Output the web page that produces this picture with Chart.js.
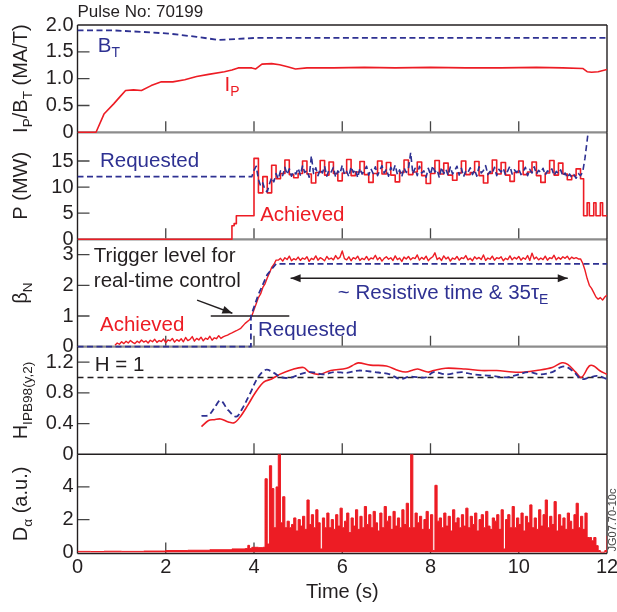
<!DOCTYPE html>
<html>
<head>
<meta charset="utf-8">
<script src="https://cdn.jsdelivr.net/npm/chart.js@4.4.1/dist/chart.umd.min.js"></script>
<style>
  html, body { margin: 0; padding: 0; background: #fff; }
  #wrap { position: relative; width: 617px; height: 612px; }
  #wrap canvas { position: absolute; left: 0; top: 0; }
</style>
</head>
<body>
<div id="wrap">
  <canvas id="c1" width="617" height="612"></canvas>
  <canvas id="c2" width="617" height="612"></canvas>
  <canvas id="c3" width="617" height="612"></canvas>
  <canvas id="c4" width="617" height="612"></canvas>
  <canvas id="c5" width="617" height="612"></canvas>
</div>
<script>
// ---------- data ----------
const timeTicks = [0, 2, 4, 6, 8, 10, 12];

// Ip / Bt panel
const ipBtTicks = [0, 0.5, 1, 1.5, 2];
const ipBtTickLabels = ['0', '0.5', '1.0', '1.5', '2.0'];
const btTime = [0, 0.8, 1.5, 2.07, 2.7, 3.2, 3.6, 4.04, 12];
const btVal = [1.9, 1.9, 1.87, 1.84, 1.78, 1.72, 1.74, 1.76, 1.76];
const ipTime = [0, 0.42, 0.6, 0.82, 0.96, 1.09, 1.27, 1.45, 1.67, 1.9, 2.16, 2.43, 2.7, 2.97, 3.33, 3.5, 3.64, 3.95,
  4.04, 4.18, 4.4, 4.58, 4.76, 4.94, 5.2, 5.8, 6.5, 7.2, 8.0, 8.8, 9.6, 10.4, 11.0, 11.45, 11.55, 11.65, 11.8, 12];
const ipVal = [0, 0, 0.34, 0.53, 0.66, 0.78, 0.79, 0.78, 0.87, 0.94, 0.94, 0.98, 1.04, 1.08, 1.13, 1.16, 1.2, 1.2,
  1.18, 1.27, 1.28, 1.26, 1.22, 1.18, 1.2, 1.2, 1.21, 1.2, 1.21, 1.2, 1.2, 1.21, 1.2, 1.19, 1.13, 1.12, 1.13, 1.17];

// Power panel
const powerTicks = [0, 5, 10, 15];
const powerTickLabels = ['0', '5', '10', '15'];
const pReqHoldTime = [0, 3.95];
const pReqHoldVal = [12, 12];
const pReqNoiseStart = 4.0, pReqNoiseStep = 0.05;
const pReqNoise = [
  13.2, 14.0, 11.5, 10.2, 10.8, 9.4, 9.1, 10.6, 11.8, 11.0,
  12.6, 11.6, 13.1, 12.2, 13.8, 12.4, 13.5, 12.1, 13.0, 12.5,
  13.6, 12.3, 14.1, 12.8, 13.2, 11.9, 16.0, 12.6, 13.7, 12.2,
  13.4, 12.7, 14.0, 12.1, 13.3, 12.9, 13.8, 11.9, 13.1, 12.6,
  14.2, 12.4, 13.0, 12.0, 13.9, 12.8, 13.4, 11.8, 13.6, 12.5,
  13.1, 14.0, 12.3, 13.5, 12.6, 13.9, 12.2, 13.2, 14.1, 12.7,
  13.4, 12.1, 13.8, 12.9, 14.2, 12.4, 13.3, 12.0, 13.7, 12.8,
  13.5, 16.6, 12.5, 13.6, 12.2, 14.0, 12.7, 13.1, 11.9, 13.6,
  12.4, 14.1, 12.9, 13.3, 11.8, 13.8, 12.6, 13.4, 12.2, 13.9,
  12.5, 13.2, 14.0, 12.3, 13.6, 12.0, 13.1, 12.8, 13.7, 12.4,
  13.3, 12.1, 13.9, 12.7, 13.2, 14.1, 12.4, 13.0, 12.6, 13.8,
  12.2, 13.4, 12.9, 13.6, 12.3, 13.1, 14.0, 12.5, 13.3, 12.8,
  13.5, 12.4, 13.0, 13.8, 12.2, 13.4, 12.7, 13.9, 12.5, 13.2,
  12.8, 13.6, 12.3, 13.1, 12.9, 13.5, 12.2, 13.0, 12.6, 13.3,
  12.1, 12.7, 11.8, 12.5, 11.9, 12.4, 11.7, 12.6, 12.2, 12.9
];
const pReqEndTime = [11.5, 11.58];
const pReqEndVal = [15.5, 21];
const pAchStartTime = [0, 3.5, 3.55, 3.6];
const pAchStartVal = [0, 2.6, 3.0, 4.5];
const pAchStepStart = 4.0, pAchStep = 0.1;
const pAchSteps = [
  15.5, 8.9, 12.0, 8.9, 14.2, 11.6, 12.6, 15.2, 12.4, 11.8,
  12.6, 15.0, 12.5, 10.8, 12.8, 15.1, 12.3, 14.8, 12.6, 11.2,
  12.7, 15.3, 12.2, 12.9, 14.9, 12.4, 10.9, 12.6, 15.0, 12.5,
  14.7, 12.3, 11.0, 12.8, 15.2, 12.4, 12.9, 14.8, 12.2, 10.7,
  12.6, 15.1, 12.5, 14.6, 12.3, 11.3, 12.7, 15.0, 12.4, 12.8,
  14.9, 12.2, 10.8, 12.6, 15.2, 12.5, 14.7, 12.3, 11.1, 12.8,
  15.0, 12.4, 12.9, 14.8, 12.2, 10.9, 12.7, 15.1, 12.3, 14.6,
  12.5, 11.4, 12.2, 13.5, 11.6
];
const pAchEndTime = [11.47, 11.55, 11.6, 11.7, 11.75, 11.85, 11.9, 12];
const pAchEndVal = [4.5, 7.0, 4.5, 7.0, 4.5, 7.0, 4.5, 4.5];

// beta_N panel
const betaTicks = [0, 1, 2, 3];
const betaTickLabels = ['0', '1', '2', '3'];
const betaReqTime = [0, 3.93, 3.93, 4.1, 4.3, 4.5, 12];
const betaReqVal = [0, 0, 1.0, 1.7, 2.35, 2.7, 2.7];
const betaLowStart = 0.85, betaLowStep = 0.05;
const betaLow = [
  0.05, 0.12, 0.08, 0.16, 0.1, 0.18, 0.12, 0.2, 0.14, 0.1,
  0.18, 0.13, 0.22, 0.15, 0.19, 0.12, 0.21, 0.16, 0.24, 0.14,
  0.2, 0.17, 0.25, 0.13, 0.22, 0.19, 0.27, 0.15, 0.23, 0.18,
  0.26, 0.16, 0.3, 0.2, 0.24, 0.33, 0.18, 0.27, 0.22, 0.31,
  0.19, 0.28, 0.24, 0.34, 0.21, 0.29, 0.26, 0.36, 0.27, 0.32,
  0.35, 0.38, 0.42
];
const betaRiseTime = [3.5, 3.6, 3.7, 3.8, 3.9, 3.95, 4.0, 4.05, 4.1, 4.15, 4.2, 4.25, 4.3, 4.35, 4.4, 4.45, 4.5];
const betaRiseVal = [0.45, 0.52, 0.6, 0.76, 0.88, 1.0, 1.2, 1.4, 1.6, 1.72, 1.93, 2.05, 2.24, 2.4, 2.58, 2.68, 2.82];
const betaFlatStart = 4.55, betaFlatStep = 0.05;
const betaFlat = [
  2.82, 2.88, 2.79, 2.9, 2.84, 2.95, 2.8, 2.87, 2.83, 2.92,
  2.81, 2.89, 2.85, 2.93, 2.78, 2.88, 2.84, 2.96, 2.82, 2.9,
  2.86, 2.8, 2.94, 2.85, 2.89, 2.83, 2.97, 2.86, 2.92, 3.12,
  2.87, 2.83, 2.93, 2.8, 2.9, 2.86, 2.95, 2.81, 2.88, 2.84,
  2.94, 2.82, 2.89, 2.86, 2.98, 2.83, 2.91, 2.79, 2.88, 2.93,
  2.85, 2.9, 2.81, 2.96, 2.84, 2.89, 2.78, 2.92, 2.86, 2.94,
  2.83, 2.9, 2.87, 2.99, 2.82, 2.91, 2.85, 2.95, 2.8, 2.88,
  2.93, 3.06, 2.84, 2.9, 2.81, 2.96, 2.86, 2.92, 2.79, 2.89,
  2.85, 2.94, 2.82, 2.9, 2.87, 2.97, 2.83, 2.88, 2.8, 2.93,
  2.86, 2.91, 2.84, 2.99, 2.81, 2.89, 2.85, 2.95, 2.82, 2.9,
  2.87, 2.93, 2.8, 2.88, 2.84, 2.96, 2.83, 2.91, 2.86, 2.94,
  2.82, 2.9, 2.85, 2.97, 2.81, 3.05, 2.86, 2.92, 2.83, 2.89,
  2.84, 2.95, 2.82, 2.9, 2.87, 2.98, 2.83, 2.91, 2.85, 2.93,
  2.88, 2.95, 2.84, 2.92, 2.87, 2.9, 2.86
];
const betaDropTime = [11.4, 11.45, 11.5, 11.55, 11.6, 11.65, 11.7, 11.75, 11.8, 11.85, 11.9, 11.95, 12];
const betaDropVal = [2.86, 2.72, 2.5, 2.22, 2.0, 1.9, 1.76, 1.62, 1.55, 1.6, 1.52, 1.62, 1.68];
const triggerTime = [3.02, 4.8];
const triggerVal = [1, 1];

// H factor panel
const hTicks = [0, 0.4, 0.8, 1.2];
const hTickLabels = ['0', '0.4', '0.8', '1.2'];
const hAchTime = [2.81, 2.97, 3.1, 3.24, 3.42, 3.55, 3.69, 3.86, 4.04, 4.22, 4.4, 4.58, 4.85, 5.12, 5.25, 5.47, 5.74,
  6.1, 6.28, 6.37, 6.64, 7.0, 7.27, 7.44, 7.62, 7.71, 7.94, 8.07, 8.34, 8.79, 9.15, 9.5, 9.86, 10.13, 10.4, 10.76,
  10.98, 11.11, 11.29, 11.42, 11.6, 11.7, 11.83, 12];
const hAchVal = [0.36, 0.44, 0.45, 0.46, 0.42, 0.41, 0.49, 0.64, 0.81, 0.94, 0.98, 1.04, 1.1, 1.13, 1.07, 1.04, 1.09,
  1.12, 1.17, 1.19, 1.16, 1.15, 1.09, 1.07, 1.1, 1.11, 1.07, 1.09, 1.12, 1.11, 1.09, 1.09, 1.07, 1.07, 1.09, 1.13,
  1.19, 1.17, 1.07, 1.0, 1.15, 1.15, 1.09, 1.04];
const hReqTime = [2.81, 2.97, 3.1, 3.24, 3.42, 3.6, 3.73, 3.91, 4.09, 4.27, 4.45, 4.62, 4.85, 5.03, 5.3, 5.56, 5.83,
  6.1, 6.37, 6.73, 7.08, 7.31, 7.53, 7.89, 8.07, 8.34, 8.7, 8.96, 9.41, 9.68, 9.95, 10.21, 10.48, 10.76, 10.94, 11.07,
  11.25, 11.42, 11.6, 11.78, 12];
const hReqVal = [0.5, 0.51, 0.6, 0.7, 0.57, 0.49, 0.59, 0.79, 1.0, 1.1, 1.06, 1.0, 1.0, 1.04, 1.07, 1.04, 1.07,
  1.06, 1.09, 1.07, 1.04, 0.98, 1.01, 1.0, 1.07, 1.04, 1.07, 1.04, 1.02, 1.0, 1.03, 1.07, 1.04, 1.07, 1.13, 1.14,
  1.07, 0.98, 1.0, 1.02, 0.98];
const hRefTime = [0, 12];
const hRefVal = [1, 1];

// D-alpha panel
const daTicks = [0, 2, 4];
const daTickLabels = ['0', '2', '4'];
const daBaseTime = [0, 0.3, 0.6, 1.0, 1.5, 2.0, 2.5, 3.0, 3.5, 3.8, 3.86, 3.9, 3.95, 4.1, 4.2];
const daBaseVal = [0.05, 0.04, 0.06, 0.05, 0.07, 0.1, 0.12, 0.15, 0.2, 0.22, 0.42, 0.22, 0.3, 0.28, 0.3];
const daBurstStart = 4.25, daBurstStep = 0.05;
const daBurst = [
  4.5, 0.5, 5.3, 3.9, 1.5, 4.0, 6.2, 1.8, 3.4, 1.5,
  1.9, 1.5, 1.7, 2.1, 1.3, 2.0, 1.6, 2.2, 1.4, 3.2,
  1.7, 2.3, 1.5, 2.6, 1.8, 0.2, 2.1, 1.5, 2.4, 1.5,
  2.0, 1.4, 2.3, 1.6, 2.7, 1.5, 1.9, 2.4, 1.2, 2.1,
  1.6, 2.6, 1.4, 2.2, 1.5, 2.8, 1.7, 2.3, 1.5, 2.5,
  1.8, 1.3, 2.4, 1.5, 2.8, 1.9, 2.2, 1.4, 2.5, 1.6,
  2.1, 1.5, 2.6, 1.7, 3.0, 1.5, 6.2, 1.5, 2.4, 1.8,
  2.2, 1.4, 2.0, 2.5, 1.4, 2.3, 0.1, 4.1, 1.9, 2.1,
  1.5, 2.4, 1.6, 2.2, 1.3, 2.6, 1.8, 2.1, 1.5, 2.3,
  1.6, 2.7, 1.5, 2.2, 1.7, 2.4, 1.3, 2.0, 2.3, 1.5,
  2.5, 1.6, 1.4, 2.1, 1.9, 2.3, 1.4, 2.6, 0.2, 2.0,
  2.3, 1.5, 2.8, 1.5, 2.1, 1.7, 2.4, 1.3, 2.2, 1.8,
  2.9, 1.5, 2.1, 1.4, 2.6, 1.6, 2.3, 3.2, 1.5, 2.2,
  1.7, 3.1, 1.3, 2.3, 1.6, 2.1, 1.4, 2.4, 1.9, 1.4,
  2.3, 3.0, 1.5, 2.2, 1.4, 2.4, 0.9, 0.9, 0.7, 0.9,
  0.4, 0.1, 0.0, 0.0, 0.1
];
const daEndTime = [12];
const daEndVal = [1.0];

// ---------- look ----------
const FONT = '"Liberation Sans", Arial, Helvetica, sans-serif';
const RED = '#ed1c24', BLUE = '#2e3192', INK = '#231f20', GREY = '#8c8c8c';
const CANVAS_W = 617, CANVAS_H = 612;
const PLOT_LEFT = 77.5, PLOT_RIGHT = 607;

Chart.defaults.font.family = FONT;
Chart.defaults.font.size = 20;
Chart.defaults.color = INK;

const pts = (ts, vs) => ts.map((t, i) => ({x: t, y: vs[i]}));
const grid = (t0, dt, vs) => vs.map((v, i) => ({x: +(t0 + i * dt).toFixed(3), y: v}));

// text with _{subscript} parts
function parseRich(s) {
  const out = [], re = /_\{([^}]*)\}/g;
  let last = 0, m;
  while ((m = re.exec(s))) {
    if (m.index > last) out.push({t: s.slice(last, m.index)});
    out.push({t: m[1], sub: true});
    last = re.lastIndex;
  }
  if (last < s.length) out.push({t: s.slice(last)});
  return out;
}

function drawRich(ctx, s, x, y, size, color, rotate, align) {
  const parts = parseRich(s), sub = size * 0.68;
  ctx.save();
  ctx.translate(x, y);
  if (rotate) ctx.rotate(rotate);
  ctx.fillStyle = color;
  ctx.textBaseline = 'middle';
  ctx.textAlign = 'left';
  let w = 0;
  parts.forEach(p => {
    ctx.font = (p.sub ? sub : size) + 'px ' + FONT;
    p.w = ctx.measureText(p.t).width;
    w += p.w;
  });
  let cx = align === 'center' ? -w / 2 : 0;
  parts.forEach(p => {
    ctx.font = (p.sub ? sub : size) + 'px ' + FONT;
    ctx.fillText(p.t, cx, p.sub ? size * 0.33 : 0);
    cx += p.w;
  });
  ctx.restore();
}

function arrowHead(ctx, x0, y0, x1, y1) {
  const a = Math.atan2(y1 - y0, x1 - x0), len = 10, half = 4;
  ctx.beginPath();
  ctx.moveTo(x1, y1);
  ctx.lineTo(x1 - len * Math.cos(a) + half * Math.sin(a), y1 - len * Math.sin(a) - half * Math.cos(a));
  ctx.lineTo(x1 - len * Math.cos(a) - half * Math.sin(a), y1 - len * Math.sin(a) + half * Math.cos(a));
  ctx.closePath();
  ctx.fill();
}

// frame, inward ticks, labels
const panelDecor = {
  id: 'panelDecor',
  beforeDatasetsDraw(chart, args, o) {
    const {ctx, chartArea: a} = chart;
    const xs = chart.scales.x, ys = chart.scales.y;
    ctx.save();
    ctx.strokeStyle = '#444';
    ctx.lineWidth = 1.3;
    ctx.beginPath();
    o.xMarks.forEach(v => {
      const px = xs.getPixelForValue(v);
      ctx.moveTo(px, a.bottom);
      ctx.lineTo(px, a.bottom - 11);
    });
    o.yMarks.forEach(v => {
      const py = ys.getPixelForValue(v);
      ctx.moveTo(a.left, py);
      ctx.lineTo(a.left + 12, py);
    });
    ctx.stroke();
    const edge = (x0, y0, x1, y1, c) => {
      if (!c) return;
      ctx.strokeStyle = c;
      ctx.lineWidth = c === GREY ? 2.2 : 1.4;
      ctx.beginPath();
      ctx.moveTo(x0, y0);
      ctx.lineTo(x1, y1);
      ctx.stroke();
    };
    edge(a.left, a.top, a.right, a.top, o.topColor);
    edge(a.left, a.bottom, a.right, a.bottom, o.bottomColor);
    edge(a.left, a.top, a.left, a.bottom, INK);
    edge(a.right, a.top, a.right, a.bottom, INK);
    ctx.restore();
  },
  afterDatasetsDraw(chart, args, o) {
    const {ctx, chartArea: a} = chart;
    const xs = chart.scales.x, ys = chart.scales.y;
    ctx.save();
    (o.arrows || []).forEach(ar => {
      const x0 = xs.getPixelForValue(ar.from[0]), y0 = ys.getPixelForValue(ar.from[1]);
      const x1 = xs.getPixelForValue(ar.to[0]), y1 = ys.getPixelForValue(ar.to[1]);
      ctx.strokeStyle = INK;
      ctx.fillStyle = INK;
      ctx.lineWidth = 1.4;
      ctx.beginPath();
      ctx.moveTo(x0, y0);
      ctx.lineTo(x1, y1);
      ctx.stroke();
      arrowHead(ctx, x0, y0, x1, y1);
      if (ar.both) arrowHead(ctx, x1, y1, x0, y0);
    });
    (o.labels || []).forEach(l => {
      drawRich(ctx, l.text, xs.getPixelForValue(l.x), ys.getPixelForValue(l.y), 20.5, l.color, 0, 'left');
    });
    drawRich(ctx, o.yTitle, 21.5, (a.top + a.bottom) / 2, 20, INK, -Math.PI / 2, 'center');
    if (o.title) drawRich(ctx, o.title, PLOT_LEFT, 12.5, 17, INK, 0, 'left');
    if (o.sideNote) drawRich(ctx, o.sideNote, 613, 520, 11, '#444', -Math.PI / 2, 'center');
    ctx.restore();
  }
};

function line(data, color, opts) {
  return Object.assign({data, borderColor: color, backgroundColor: color, borderWidth: 1.6, pointRadius: 0, fill: false}, opts || {});
}
const DASH = [6, 3.5];

function makePanel(cfg) {
  const last = !!cfg.timeAxis;
  const xScale = last ? {
    type: 'linear', min: 0, max: 12,
    afterBuildTicks: s => { s.ticks = timeTicks.map(v => ({value: v})); },
    afterFit: s => { s.height = CANVAS_H - cfg.bottom; s.paddingLeft = 0; s.paddingRight = 0; },
    grid: {display: false, drawTicks: false},
    border: {display: false},
    ticks: {padding: 2, color: INK, font: {size: 20}, maxRotation: 0, autoSkip: false},
    title: {display: true, text: 'Time (s)', color: INK, font: {size: 20}, padding: {top: 0, bottom: 8}}
  } : {type: 'linear', min: 0, max: 12, display: false};

  return new Chart(document.getElementById(cfg.canvas), {
    type: 'line',
    data: {datasets: cfg.datasets},
    options: {
      responsive: false,
      animation: false,
      events: [],
      layout: {padding: {top: cfg.top, bottom: last ? 0 : CANVAS_H - cfg.bottom, left: 0, right: CANVAS_W - PLOT_RIGHT}},
      elements: {line: {tension: 0, borderJoinStyle: 'round'}, point: {radius: 0}},
      scales: {
        x: xScale,
        y: {
          min: cfg.yMin, max: cfg.yMax,
          afterBuildTicks: s => { s.ticks = cfg.ticks.map(v => ({value: v})); },
          afterFit: s => { s.width = PLOT_LEFT; s.paddingTop = 0; s.paddingBottom = 0; },
          grid: {display: false, drawTicks: false},
          border: {display: false},
          ticks: {padding: 4, color: INK, font: {size: 20}, autoSkip: false,
                  callback: (v, i) => cfg.tickLabels[i]}
        }
      },
      plugins: {legend: {display: false}, tooltip: {enabled: false}, panelDecor: cfg.decor}
    },
    plugins: [panelDecor]
  });
}

const innerTimes = timeTicks.slice(1, -1);
const bottomClip = {left: 0, top: 0, right: 0, bottom: 3};

makePanel({
  canvas: 'c1', top: 25, bottom: 132.3, yMin: 0, yMax: 2,
  ticks: ipBtTicks, tickLabels: ipBtTickLabels,
  datasets: [
    line(pts(btTime, btVal), BLUE, {borderDash: DASH, borderWidth: 1.8}),
    line(pts(ipTime, ipVal), RED, {clip: bottomClip})
  ],
  decor: {
    xMarks: innerTimes, yMarks: [0.5, 1, 1.5], topColor: INK, bottomColor: GREY,
    yTitle: 'I_{P}/B_{T} (MA/T)', title: 'Pulse No: 70199',
    labels: [
      {text: 'B_{T}', x: 0.46, y: 1.6, color: BLUE},
      {text: 'I_{P}', x: 3.33, y: 0.88, color: RED}
    ]
  }
});

makePanel({
  canvas: 'c2', top: 132.3, bottom: 239.3, yMin: 0, yMax: 20.5,
  ticks: powerTicks, tickLabels: powerTickLabels,
  datasets: [
    line(pts(pReqHoldTime, pReqHoldVal).concat(grid(pReqNoiseStart, pReqNoiseStep, pReqNoise), pts(pReqEndTime, pReqEndVal)),
         BLUE, {borderDash: DASH, borderWidth: 1.6}),
    line(pts(pAchStartTime, pAchStartVal).concat(grid(pAchStepStart, pAchStep, pAchSteps), pts(pAchEndTime, pAchEndVal)),
         RED, {stepped: true, clip: bottomClip})
  ],
  decor: {
    xMarks: innerTimes, yMarks: [5, 10, 15], topColor: null, bottomColor: GREY,
    yTitle: 'P (MW)',
    labels: [
      {text: 'Requested', x: 0.51, y: 14.87, color: BLUE},
      {text: 'Achieved', x: 4.14, y: 4.66, color: RED}
    ]
  }
});

makePanel({
  canvas: 'c3', top: 239.3, bottom: 346.7, yMin: 0, yMax: 3.5,
  ticks: betaTicks, tickLabels: betaTickLabels,
  datasets: [
    line(pts(betaReqTime, betaReqVal), BLUE, {borderDash: DASH, borderWidth: 1.8, clip: bottomClip}),
    line(pts(triggerTime, triggerVal), INK, {borderWidth: 1.6}),
    line(grid(betaLowStart, betaLowStep, betaLow).concat(pts(betaRiseTime, betaRiseVal),
         grid(betaFlatStart, betaFlatStep, betaFlat), pts(betaDropTime, betaDropVal)), RED, {borderWidth: 1.4})
  ],
  decor: {
    xMarks: innerTimes, yMarks: [1, 2, 3], topColor: null, bottomColor: GREY,
    yTitle: 'β_{N}',
    labels: [
      {text: 'Trigger level for', x: 0.37, y: 2.93, color: INK},
      {text: 'real-time control', x: 0.37, y: 2.12, color: INK},
      {text: 'Achieved', x: 0.51, y: 0.71, color: RED},
      {text: 'Requested', x: 4.09, y: 0.54, color: BLUE},
      {text: '~ Resistive time & 35τ_{E}', x: 5.9, y: 1.74, color: BLUE}
    ],
    arrows: [
      {from: [2.71, 1.52], to: [3.51, 1.09], both: false},
      {from: [4.83, 2.23], to: [11.11, 2.23], both: true}
    ]
  }
});

makePanel({
  canvas: 'c4', top: 346.7, bottom: 454.3, yMin: 0, yMax: 1.4,
  ticks: hTicks, tickLabels: hTickLabels,
  datasets: [
    line(pts(hReqTime, hReqVal), BLUE, {borderDash: DASH, borderWidth: 1.8, tension: 0.35}),
    line(pts(hAchTime, hAchVal), RED, {tension: 0.35}),
    line(pts(hRefTime, hRefVal), INK, {borderDash: [6, 4], borderWidth: 1.4})
  ],
  decor: {
    xMarks: innerTimes, yMarks: [0.4, 0.8, 1.2], topColor: null, bottomColor: INK,
    yTitle: 'H_{IPB98(y,2)}',
    labels: [{text: 'H = 1', x: 0.39, y: 1.16, color: INK}]
  }
});

makePanel({
  canvas: 'c5', top: 454.3, bottom: 553.5, yMin: -0.08, yMax: 6,
  ticks: daTicks, tickLabels: daTickLabels, timeAxis: true,
  datasets: [
    line(pts(daBaseTime, daBaseVal).concat(grid(daBurstStart, daBurstStep, daBurst), pts(daEndTime, daEndVal)),
         RED, {borderWidth: 1, fill: 'origin', stepped: true})
  ],
  decor: {
    xMarks: innerTimes, yMarks: [2, 4], topColor: null, bottomColor: INK,
    yTitle: 'D_{α} (a.u.)', sideNote: 'JG07.70-10c'
  }
});
</script>
</body>
</html>
